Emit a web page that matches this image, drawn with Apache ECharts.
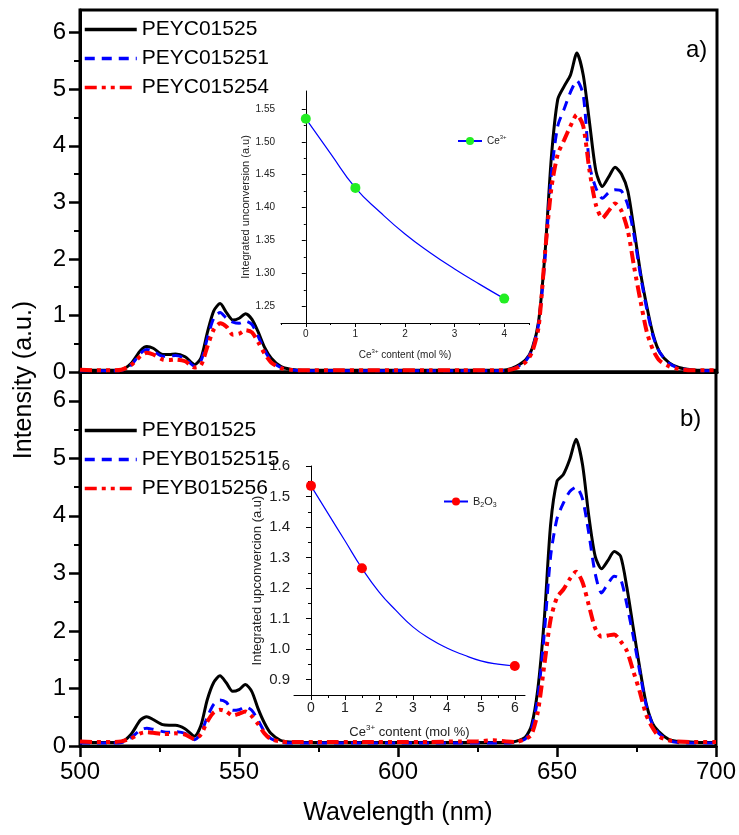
<!DOCTYPE html>
<html><head><meta charset="utf-8">
<script src="https://cdn.jsdelivr.net/npm/echarts@6/dist/echarts.min.js"></script>
<style>html,body{margin:0;padding:0;background:#fff}#c{width:739px;height:835px}</style>
</head><body><div id="c"></div>
<script>
// ---------- DATA ----------
const wavelengths = [500,505,510,513,516,519,521,523,526,528,530,533,536,538,540,542,544,546,548,550,552,554,556,558,560,563,566,570,580,590,600,610,620,625,630,634,637,640,642,644,646,648,650,652,654,656,658,660,662,664,666,668,670,672,674,676,678,680,682,685,688,692,696,700];

// panel a)
const PEYC01525  = [0.03,0.03,0.03,0.04,0.15,0.38,0.45,0.42,0.31,0.31,0.32,0.27,0.13,0.25,0.70,1.08,1.21,1.05,0.92,0.95,1.03,0.93,0.70,0.43,0.25,0.10,0.05,0.03,0.03,0.03,0.03,0.03,0.03,0.03,0.03,0.04,0.10,0.22,0.42,0.90,2.10,3.80,4.82,5.05,5.25,5.64,5.25,4.40,3.55,3.28,3.45,3.62,3.50,3.20,2.50,1.75,1.15,0.65,0.35,0.16,0.08,0.04,0.03,0.03];
const PEYC015251 = [0.02,0.02,0.02,0.03,0.12,0.33,0.40,0.37,0.28,0.28,0.29,0.24,0.10,0.20,0.60,0.95,1.05,0.95,0.88,0.86,0.90,0.84,0.62,0.38,0.20,0.08,0.04,0.02,0.02,0.02,0.02,0.02,0.02,0.02,0.02,0.03,0.08,0.20,0.40,0.85,2.00,3.50,4.35,4.65,4.95,5.15,4.90,3.65,3.25,3.07,3.17,3.22,3.20,2.95,2.40,1.70,1.10,0.62,0.35,0.15,0.07,0.03,0.02,0.02];
const PEYC015254 = [0.04,0.03,0.03,0.04,0.12,0.28,0.34,0.31,0.22,0.21,0.22,0.19,0.08,0.12,0.45,0.75,0.86,0.80,0.66,0.68,0.74,0.70,0.52,0.32,0.17,0.07,0.04,0.03,0.03,0.03,0.03,0.03,0.03,0.03,0.03,0.03,0.07,0.18,0.36,0.80,2.10,3.25,3.85,4.10,4.35,4.55,4.35,3.55,2.95,2.72,2.85,2.98,2.85,2.50,1.85,1.25,0.70,0.38,0.20,0.10,0.05,0.03,0.03,0.03];

// panel b)
const PEYB01525   = [0.06,0.06,0.06,0.07,0.20,0.45,0.51,0.46,0.37,0.36,0.36,0.30,0.17,0.35,0.80,1.10,1.22,1.10,0.95,0.98,1.07,0.95,0.65,0.40,0.22,0.10,0.07,0.06,0.06,0.06,0.06,0.06,0.06,0.06,0.06,0.06,0.08,0.15,0.36,1.00,2.20,3.85,4.60,4.72,4.98,5.33,4.90,4.00,3.30,3.08,3.22,3.38,3.30,2.75,2.05,1.37,0.75,0.40,0.25,0.12,0.08,0.07,0.06,0.06];
const PEYB0152515 = [0.05,0.05,0.05,0.06,0.14,0.28,0.31,0.29,0.25,0.24,0.25,0.22,0.11,0.22,0.50,0.72,0.80,0.76,0.62,0.63,0.68,0.62,0.45,0.25,0.13,0.07,0.05,0.05,0.05,0.05,0.05,0.05,0.05,0.05,0.05,0.05,0.07,0.12,0.30,0.85,1.95,3.30,3.95,4.22,4.42,4.50,4.30,3.70,3.00,2.66,2.82,2.95,2.90,2.45,1.90,1.30,0.72,0.38,0.22,0.10,0.06,0.05,0.05,0.05];
const PEYB015256  = [0.08,0.07,0.07,0.08,0.13,0.22,0.24,0.23,0.21,0.21,0.22,0.20,0.12,0.20,0.42,0.58,0.63,0.60,0.53,0.56,0.60,0.52,0.38,0.22,0.12,0.08,0.07,0.07,0.07,0.07,0.07,0.07,0.08,0.08,0.10,0.08,0.07,0.12,0.20,0.60,1.40,2.20,2.58,2.72,2.90,3.03,2.85,2.45,2.05,1.90,1.92,1.94,1.82,1.65,1.30,0.95,0.55,0.32,0.17,0.10,0.08,0.07,0.07,0.07];

// inset a): measured points and fitted curve read from picture
const ceContentA = [0, 1, 4];
const upconvA    = [1.535, 1.43, 1.262];
const fitXA = [0, 0.5, 1, 1.5, 2, 2.5, 3, 3.5, 4];
const fitYA = [1.535, 1.482, 1.43, 1.393, 1.360, 1.332, 1.307, 1.284, 1.262];

// inset b)
const ceContentB = [0, 1.5, 6];
const upconvB    = [1.535, 1.265, 0.945];
const fitXB = [0, 0.5, 1, 1.5, 2, 2.5, 3, 3.5, 4, 4.5, 5, 5.5, 6];
const fitYB = [1.535, 1.445, 1.355, 1.265, 1.188, 1.127, 1.073, 1.034, 1.004, 0.981, 0.962, 0.951, 0.945];

// tick labels
const xMajorTicks = [500, 550, 600, 650, 700];
const xMinorTicks = [525, 575, 625, 675];
const yMajorTicks = [0, 1, 2, 3, 4, 5, 6];
const yMinorTicks = [0.5, 1.5, 2.5, 3.5, 4.5, 5.5];
const insetAYTicks = [1.25, 1.30, 1.35, 1.40, 1.45, 1.50, 1.55];
const insetAYMinor = [1.275, 1.325, 1.375, 1.425, 1.475, 1.525];
const insetAXTicks = [0, 1, 2, 3, 4];
const insetAXMinor = [-0.5, 0.5, 1.5, 2.5, 3.5, 4.5];
const insetBYTicks = [0.9, 1.0, 1.1, 1.2, 1.3, 1.4, 1.5, 1.6];
const insetBYMinor = [0.95, 1.05, 1.15, 1.25, 1.35, 1.45, 1.55];
const insetBXTicks = [0, 1, 2, 3, 4, 5, 6];
const insetBXMinor = [0.5, 1.5, 2.5, 3.5, 4.5, 5.5];

// ---------- CHART ----------
const FF = "'Liberation Sans', Arial, sans-serif";
const pair = (xs, ys) => xs.map((x, i) => [x, ys[i]]);
function fitData(fx, fy, mx) {
  return fx.map((x, i) => mx.indexOf(x) >= 0 ? { value: [x, fy[i]] } : { value: [x, fy[i]], symbol: 'none' });
}
function minorAxis(grid, pos, min, max, vals, len) {
  return {
    type: 'value', gridIndex: grid, position: pos, min: min, max: max,
    axisLine: { show: false }, axisLabel: { show: false }, splitLine: { show: false },
    axisTick: { show: true, inside: false, length: len, customValues: vals, lineStyle: { color: '#000', width: len > 3 ? 2 : 1 } }
  };
}
const dashBlue = [10, 7];
const dashRed = [12, 5, 4, 5, 4, 5];

const chart = echarts.init(document.getElementById('c'), null, { renderer: 'canvas' });

const mainLegend = (top, names) => ({
  orient: 'vertical', left: 83, top: top, itemWidth: 52, itemHeight: 20, itemGap: 8, padding: 0,
  itemStyle: { opacity: 0 }, lineStyle: { width: 3.5 },
  textStyle: { fontSize: 21, color: '#000', fontFamily: FF },
  data: names
});

const option = {
  animation: false,
  backgroundColor: '#fff',
  textStyle: { fontFamily: FF },
  grid: [
    { left: 80, top: 10, width: 637, height: 362, show: true, borderColor: '#000', borderWidth: 3, backgroundColor: 'transparent' },
    { left: 80, top: 372, width: 637, height: 374, show: true, borderColor: '#000', borderWidth: 3, backgroundColor: 'transparent' },
    { left: 281, top: 91, width: 248, height: 232 },
    { left: 294, top: 466, width: 231, height: 229 }
  ],
  xAxis: [
    { type: 'value', gridIndex: 0, min: 500, max: 700, axisLine: { lineStyle: { color: '#000', width: 3 } }, axisTick: { show: false }, axisLabel: { show: false }, splitLine: { show: false } },
    { type: 'value', gridIndex: 1, min: 500, max: 700,
      axisLine: { lineStyle: { color: '#000', width: 3 } },
      axisTick: { show: true, length: 11, customValues: xMajorTicks, lineStyle: { color: '#000', width: 2.5 } },
      axisLabel: { customValues: xMajorTicks, fontSize: 24, color: '#000', margin: 14, fontFamily: FF },
      splitLine: { show: false },
      name: 'Wavelength (nm)', nameLocation: 'middle', nameGap: 55,
      nameTextStyle: { fontSize: 25, color: '#000', fontFamily: FF } },
    { type: 'value', gridIndex: 2, min: -0.5, max: 4.5,
      axisLine: { lineStyle: { color: '#000', width: 1 } },
      axisTick: { show: true, length: 4, customValues: insetAXTicks, lineStyle: { color: '#000' } },
      axisLabel: { customValues: insetAXTicks, fontSize: 10, color: '#222', margin: 6, fontFamily: FF },
      splitLine: { show: false },
      name: '{a|Ce}{s|3+}{a| content (mol %)}', nameLocation: 'middle', nameGap: 25,
      nameTextStyle: { color: '#222', rich: { a: { fontSize: 10, color: '#222', fontFamily: FF, lineHeight: 14 }, s: { fontSize: 6, color: '#222', verticalAlign: 'top', fontFamily: FF, lineHeight: 14 } } } },
    { type: 'value', gridIndex: 3, min: -0.5, max: 6.3,
      axisLine: { lineStyle: { color: '#000', width: 1 } },
      axisTick: { show: true, length: 5, customValues: insetBXTicks, lineStyle: { color: '#000' } },
      axisLabel: { customValues: insetBXTicks, fontSize: 14, color: '#222', margin: 6, fontFamily: FF },
      splitLine: { show: false },
      name: '{a|Ce}{s|3+}{a| content (mol %)}', nameLocation: 'middle', nameGap: 29,
      nameTextStyle: { color: '#222', rich: { a: { fontSize: 13, color: '#222', fontFamily: FF, lineHeight: 16 }, s: { fontSize: 8, color: '#222', verticalAlign: 'top', fontFamily: FF, lineHeight: 16 } } } },
    minorAxis(1, 'bottom', 500, 700, xMinorTicks, 6),
    minorAxis(2, 'bottom', -0.5, 4.5, insetAXMinor, 2),
    minorAxis(3, 'bottom', -0.5, 6.3, insetBXMinor, 3)
  ],
  yAxis: [
    { type: 'value', gridIndex: 0, min: 0, max: 6.4,
      axisLine: { show: true, lineStyle: { color: '#000', width: 3 } },
      axisTick: { show: true, length: 11, customValues: yMajorTicks, lineStyle: { color: '#000', width: 2.5 } },
      axisLabel: { customValues: yMajorTicks, fontSize: 24, color: '#000', margin: 14, fontFamily: FF },
      splitLine: { show: false } },
    { type: 'value', gridIndex: 1, min: 0, max: 6.5,
      axisLine: { show: true, lineStyle: { color: '#000', width: 3 } },
      axisTick: { show: true, length: 11, customValues: yMajorTicks, lineStyle: { color: '#000', width: 2.5 } },
      axisLabel: { customValues: yMajorTicks, fontSize: 24, color: '#000', margin: 14, fontFamily: FF },
      splitLine: { show: false } },
    { type: 'value', gridIndex: 2, min: 1.225, max: 1.577,
      axisLine: { show: true, lineStyle: { color: '#000', width: 1 } },
      axisTick: { show: true, length: 4, customValues: insetAYTicks, lineStyle: { color: '#000' } },
      axisLabel: { customValues: insetAYTicks, fontSize: 10, color: '#222', margin: 6, fontFamily: FF, formatter: v => v.toFixed(2) },
      splitLine: { show: false },
      name: 'Integrated unconversion (a.u)', nameLocation: 'middle', nameGap: 27,
      nameTextStyle: { fontSize: 11, color: '#222', fontFamily: FF } },
    { type: 'value', gridIndex: 3, min: 0.85, max: 1.6,
      axisLine: { show: true, lineStyle: { color: '#000', width: 1 } },
      axisTick: { show: true, length: 5, customValues: insetBYTicks, lineStyle: { color: '#000' } },
      axisLabel: { customValues: insetBYTicks, fontSize: 15, color: '#222', margin: 4, fontFamily: FF, formatter: v => v.toFixed(1) },
      splitLine: { show: false },
      name: 'Integrated upconvercion (a.u)', nameLocation: 'middle', nameGap: 30,
      nameTextStyle: { fontSize: 13, color: '#222', fontFamily: FF } },
    minorAxis(0, 'left', 0, 6.4, yMinorTicks, 6),
    minorAxis(1, 'left', 0, 6.5, yMinorTicks, 6),
    minorAxis(2, 'left', 1.225, 1.577, insetAYMinor, 2),
    minorAxis(3, 'left', 0.85, 1.6, insetBYMinor, 3)
  ],
  legend: [
    mainLegend(19, ['PEYC01525', 'PEYC015251', 'PEYC015254']),
    mainLegend(420, ['PEYB01525', 'PEYB0152515', 'PEYB015256']),
    { left: 457, top: 134, itemWidth: 24, itemHeight: 10, padding: 0,
      formatter: () => '{a|Ce}{s|3+}',
      textStyle: { rich: { a: { fontSize: 10, color: '#222', fontFamily: FF, lineHeight: 14 }, s: { fontSize: 6, color: '#222', fontFamily: FF, verticalAlign: 'top', lineHeight: 14 } } },
      data: ['Ce3+'] },
    { left: 443, top: 496, itemWidth: 24, itemHeight: 10, padding: 0,
      formatter: () => '{a|B}{s|2}{a|O}{s|3}',
      textStyle: { rich: { a: { fontSize: 11, color: '#222', fontFamily: FF, lineHeight: 14 }, s: { fontSize: 7, color: '#222', fontFamily: FF, verticalAlign: 'bottom', lineHeight: 14 } } },
      data: ['B2O3'] }
  ],
  graphic: [
    { type: 'text', x: 24, y: 380, rotation: Math.PI / 2,
      style: { text: 'Intensity (a.u.)', fontSize: 25, fontFamily: FF, fill: '#000', align: 'center', verticalAlign: 'middle' } },
    { type: 'text', x: 686, y: 50, style: { text: 'a)', fontSize: 24, fontFamily: FF, fill: '#000', align: 'left', verticalAlign: 'middle' } },
    { type: 'text', x: 680, y: 419, style: { text: 'b)', fontSize: 24, fontFamily: FF, fill: '#000', align: 'left', verticalAlign: 'middle' } }
  ],
  series: [
    { name: 'PEYC01525', type: 'line', xAxisIndex: 0, yAxisIndex: 0, data: pair(wavelengths, PEYC01525), smooth: 0.25, symbol: 'none', z: 3,
      lineStyle: { color: '#000', width: 3 }, itemStyle: { color: '#000' } },
    { name: 'PEYC015251', type: 'line', xAxisIndex: 0, yAxisIndex: 0, data: pair(wavelengths, PEYC015251), smooth: 0.25, symbol: 'none', z: 4,
      lineStyle: { color: '#0000ff', width: 3, type: dashBlue }, itemStyle: { color: '#0000ff' } },
    { name: 'PEYC015254', type: 'line', xAxisIndex: 0, yAxisIndex: 0, data: pair(wavelengths, PEYC015254), smooth: 0.25, symbol: 'none', z: 5,
      lineStyle: { color: '#ff0000', width: 4, type: dashRed }, itemStyle: { color: '#ff0000' } },
    { name: 'PEYB01525', type: 'line', xAxisIndex: 1, yAxisIndex: 1, data: pair(wavelengths, PEYB01525), smooth: 0.25, symbol: 'none', z: 3,
      lineStyle: { color: '#000', width: 3 }, itemStyle: { color: '#000' } },
    { name: 'PEYB0152515', type: 'line', xAxisIndex: 1, yAxisIndex: 1, data: pair(wavelengths, PEYB0152515), smooth: 0.25, symbol: 'none', z: 4,
      lineStyle: { color: '#0000ff', width: 3, type: dashBlue }, itemStyle: { color: '#0000ff' } },
    { name: 'PEYB015256', type: 'line', xAxisIndex: 1, yAxisIndex: 1, data: pair(wavelengths, PEYB015256), smooth: 0.25, symbol: 'none', z: 5,
      lineStyle: { color: '#ff0000', width: 4, type: dashRed }, itemStyle: { color: '#ff0000' } },
    { name: 'Ce3+', type: 'line', xAxisIndex: 2, yAxisIndex: 2, smooth: true, symbol: 'circle', symbolSize: 10, showSymbol: true,
      data: fitData(fitXA, fitYA, ceContentA), z: 6,
      lineStyle: { color: '#0000ff', width: 1.2 }, itemStyle: { color: '#22ee22', borderWidth: 0 } },
    { name: 'B2O3', type: 'line', xAxisIndex: 3, yAxisIndex: 3, smooth: true, symbol: 'circle', symbolSize: 10, showSymbol: true,
      data: fitData(fitXB, fitYB, ceContentB), z: 6,
      lineStyle: { color: '#0000ff', width: 1.2 }, itemStyle: { color: '#ff0000', borderWidth: 0 } }
  ]
};
chart.setOption(option);
</script>
</body></html>
